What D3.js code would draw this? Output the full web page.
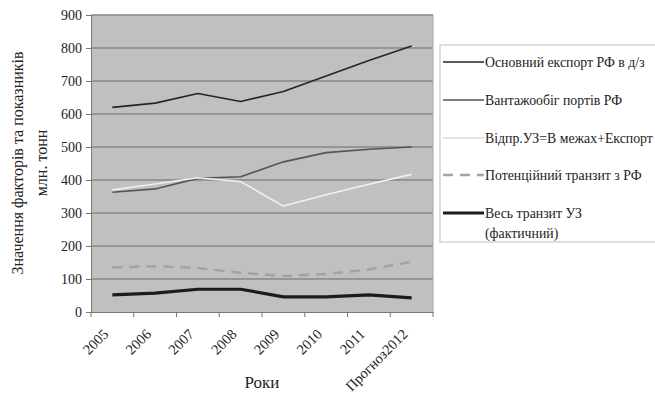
<!DOCTYPE html>
<html><head><meta charset="utf-8">
<script src="https://cdn.jsdelivr.net/npm/d3@7"></script>
<style>body{margin:0;background:#fff}svg{display:block}svg text{font-family:"Liberation Serif","Times New Roman","DejaVu Serif",serif}</style>
</head><body><svg id="c" width="655" height="395"></svg>
<script>
const categories = ["2005","2006","2007","2008","2009","2010","2011","Прогноз2012"];
const yTicks = [0,100,200,300,400,500,600,700,800,900];
const seriesNames = ["Основний експорт РФ в д/з","Вантажообіг портів РФ","Відпр.УЗ=В межах+Експорт","Потенційний транзит з РФ","Весь транзит УЗ (фактичний)"];
const exportRF = [620,633,662,638,668,715,762,806];
const portsRF = [363,373,405,410,455,483,493,500];
const shippedUZ = [370,388,407,395,321,355,387,417];
const potentialTransit = [135,139,133,119,109,115,129,152];
const totalTransit = [52,57,69,69,46,46,52,43];

const seriesData = [exportRF, portsRF, shippedUZ, potentialTransit, totalTransit];
const styles = [
  {stroke:"#262626", w:1.6, dash:null},
  {stroke:"#555555", w:1.6, dash:null},
  {stroke:"#f0f0f0", w:1.6, dash:null},
  {stroke:"#a3a3a3", w:2.5, dash:"10,7"},
  {stroke:"#1c1c1c", w:3.2, dash:null}
];
const FONT = '"Liberation Serif","Times New Roman","DejaVu Serif",serif';

const svg = d3.select("#c");
const L=91, R=433, T=15, B=312;
const x = d3.scaleBand().domain(categories).range([L,R]);
const y = d3.scaleLinear().domain([0,900]).range([B,T]);

svg.append("rect").attr("x",L).attr("y",T).attr("width",R-L).attr("height",B-T).attr("fill","#c0c0c0");
svg.append("g").selectAll("line").data(yTicks.filter(d=>d>0)).join("line")
  .attr("x1",L).attr("x2",R).attr("y1",d=>y(d)).attr("y2",d=>y(d))
  .attr("stroke","#878787").attr("stroke-width",1.3);
svg.append("line").attr("x1",R).attr("x2",R).attr("y1",T).attr("y2",B).attr("stroke","#a8a8a8");

const yAxis = svg.append("g").attr("transform",`translate(${L},0)`)
  .call(d3.axisLeft(y).tickValues(yTicks).tickSize(5).tickPadding(4).tickSizeOuter(0))
  .attr("font-family",FONT);
yAxis.select(".domain").attr("stroke","#777");
yAxis.selectAll(".tick line").attr("stroke","#777");
yAxis.selectAll("text").attr("font-size",14).attr("fill","#222");

const xAxis = svg.append("g").attr("transform",`translate(0,${B})`)
  .call(d3.axisBottom(x).tickSize(0).tickSizeOuter(0))
  .attr("font-family",FONT);
xAxis.select(".domain").attr("stroke","#777");
xAxis.selectAll(".tick line").remove();
xAxis.selectAll("text")
  .attr("font-size",14.5).attr("fill","#222")
  .attr("text-anchor","end").attr("dy",0).attr("y",0)
  .attr("transform","translate(-3,23) rotate(-45)");
const bounds = categories.map(c=>x(c)).concat([R]);
svg.append("g").selectAll("line").data(bounds).join("line")
  .attr("x1",d=>d).attr("x2",d=>d).attr("y1",B).attr("y2",B+5).attr("stroke","#777");

const line = d3.line().x((d,i)=>x(categories[i])+x.bandwidth()/2).y(d=>y(d));
seriesData.forEach((s,i)=>{
  svg.append("path").datum(s).attr("d",line).attr("fill","none")
    .attr("stroke",styles[i].stroke).attr("stroke-width",styles[i].w)
    .attr("stroke-dasharray",styles[i].dash).attr("stroke-linejoin","round");
});

svg.append("text").attr("x",262).attr("y",388).attr("text-anchor","middle")
  .attr("font-size",17).attr("fill","#222").attr("font-family",FONT).text("Роки");
const yt = svg.append("text").attr("transform","translate(0,163) rotate(-90)").attr("text-anchor","middle")
  .attr("font-size",16).attr("fill","#222").attr("font-family",FONT);
yt.append("tspan").attr("x",0).attr("y",23).text("Значення факторів та показників");
yt.append("tspan").attr("x",0).attr("y",47).text("млн. тонн");

svg.append("rect").attr("x",440).attr("y",45).attr("width",230).attr("height",197)
  .attr("fill","#fff").attr("stroke","#bdbdbd");
const ly = [62,100,138,175,213];
const lg = svg.append("g").selectAll("g").data(seriesNames).join("g")
  .attr("transform",(d,i)=>`translate(0,${ly[i]})`);
lg.append("line").attr("x1",443).attr("x2",484).attr("y1",0).attr("y2",0)
  .attr("stroke",(d,i)=>i===2?"#dcdcdc":styles[i].stroke)
  .attr("stroke-width",(d,i)=>styles[i].w)
  .attr("stroke-dasharray",(d,i)=>styles[i].dash);
lg.each(function(d,i){
  const t = d3.select(this).append("text").attr("x",485).attr("y",4.5).attr("font-size",13.8)
    .attr("fill","#222").attr("font-family",FONT);
  if(i===4){
    t.append("tspan").attr("x",485).attr("y",4.5).text("Весь транзит УЗ");
    t.append("tspan").attr("x",485).attr("y",25).text("(фактичний)");
  } else t.text(d);
});
</script></body></html>
